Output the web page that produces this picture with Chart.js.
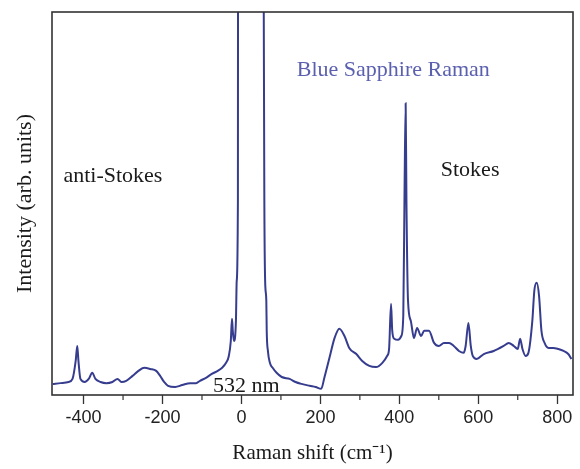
<!DOCTYPE html>
<html>
<head>
<meta charset="utf-8">
<script src="https://cdn.jsdelivr.net/npm/chart.js@4"></script>
<style>
  body { margin: 0; background: #fff; }
  #wrap { width: 580px; height: 469px; position: relative; }
</style>
</head>
<body>
<div id="wrap"><canvas id="myChart"></canvas></div>
<script>
// raman shift (cm-1) and intensity (arb. units, 0-100 = bottom-top of frame)
var shiftValues = [-478, -458, -438, -428, -420, -416, -413, -408, -397, -387, -378, -370, -357, -342, -327, -314, -304, -292,
  -276, -261, -246, -231, -216, -206, -196, -186, -168, -150, -130, -115, -105, -90, -75, -60, -49, -39, -32, -27, -24, -22,
  -19, -14, -12, -9, -8.5, -6, 52, 55, 58, 60, 63, 64, 67, 72, 79, 89, 102, 122, 137, 152, 173, 188, 202, 210, 223, 236,
  248, 261, 273, 291, 306, 324, 341, 357, 369, 374, 379, 382, 387, 397, 405, 410, 413, 416, 418, 422, 429, 437, 445, 455,
  463, 475, 488, 500, 513, 526, 538, 551, 563, 568, 575, 581, 586, 596, 614, 639, 664, 677, 690, 700, 706, 712, 720, 727,
  737, 742, 748, 754, 760, 768, 778, 790, 803, 816, 828, 836];
var intensityValues = [2.9, 3.1, 3.4, 4.2, 8.9, 12.8, 8.9, 4.2, 3.4, 4.2, 5.8, 4.2, 3.4, 3.1, 3.4, 4.2, 3.4, 3.7,
  5.0, 6.3, 7.1, 6.8, 6.3, 5.0, 3.4, 2.4, 2.1, 2.6, 3.1, 3.1, 3.7, 4.5, 5.5, 6.3, 7.1, 8.4, 10.2, 14.1, 19.9, 16.8,
  14.1, 19.4, 29.8, 50.8, 150, 300, 300, 150, 50.8, 29.8, 24.6, 16.8, 11.5, 8.4, 7.1, 5.8, 4.7, 4.2, 3.4, 2.9, 2.4, 2.1, 1.6, 4.5, 9.7, 14.9,
  17.3, 15.4, 12.3, 10.7, 8.9, 7.6, 7.3, 8.4, 10.2, 12.0, 23.8, 16.8, 14.7, 14.4, 15.4, 20.7, 50.8, 76.2, 50.8, 24.6, 19.4, 14.9, 17.5, 15.4,
  16.8, 16.8, 13.6, 12.8, 13.6, 13.6, 12.8, 11.5, 11.0, 12.8, 18.8, 12.8, 10.2, 9.4, 10.7, 11.5, 12.8, 13.6, 12.8, 12.0, 14.7, 12.0, 10.2, 11.0,
  19.4, 27.2, 29.3, 25.9, 16.8, 13.6, 12.3, 12.3, 12.0, 11.5, 10.7, 9.4];
var majorTicks = [-400, -200, 0, 200, 400, 600, 800];
var minorTicks = [-300, -100, 100, 300, 500, 700];
var notes = [
  {text: "Blue Sapphire Raman", x: 140, y: 84.9, color: "#5a5fae"},
  {text: "anti-Stokes", x: -451, y: 57, color: "#1a1a1a"},
  {text: "Stokes", x: 505, y: 58.7, color: "#1a1a1a"},
  {text: "532 nm", x: -72, y: 2.4, color: "#1a1a1a"}
];

var points = shiftValues.map(function(s, i) { return {x: s, y: intensityValues[i]}; });

// frame, minor ticks and text labels
var extras = {
  id: "extras",
  afterDatasetsDraw: function(chart) {
    var ctx = chart.ctx, a = chart.chartArea, xs = chart.scales.x, ys = chart.scales.y;
    ctx.save();
    ctx.strokeStyle = "#333";
    ctx.lineWidth = 1.6;
    ctx.strokeRect(a.left, a.top, a.right - a.left, a.bottom - a.top);
    ctx.lineWidth = 1.2;
    minorTicks.forEach(function(v) {
      var px = xs.getPixelForValue(v);
      ctx.beginPath();
      ctx.moveTo(px, a.bottom);
      ctx.lineTo(px, a.bottom + 5);
      ctx.stroke();
    });
    ctx.font = "22px 'Liberation Serif', serif";
    ctx.textBaseline = "middle";
    ctx.textAlign = "left";
    notes.forEach(function(n) {
      ctx.fillStyle = n.color;
      ctx.fillText(n.text, xs.getPixelForValue(n.x), ys.getPixelForValue(n.y));
    });
    ctx.restore();
  }
};

new Chart("myChart", {
  type: "line",
  data: {
    datasets: [{
      data: points,
      borderColor: "#363c8e",
      borderWidth: 2,
      pointRadius: 0,
      cubicInterpolationMode: "monotone",
      fill: false
    }]
  },
  options: {
    responsive: true,
    maintainAspectRatio: false,
    animation: false,
    layout: {padding: {top: 12, right: 7, left: 0, bottom: 0}},
    plugins: {legend: {display: false}, tooltip: {enabled: false}},
    scales: {
      x: {
        type: "linear",
        min: -480,
        max: 840,
        afterFit: function(s) { s.height = 74; },
        afterBuildTicks: function(s) { s.ticks = majorTicks.map(function(v) { return {value: v}; }); },
        border: {display: false},
        grid: {display: true, drawOnChartArea: false, drawTicks: true, tickLength: 9, tickColor: "#333", tickWidth: 1.3},
        ticks: {color: "#222", padding: 3, maxRotation: 0, font: {family: "'Liberation Sans', Arial, sans-serif", size: 18}},
        title: {display: true, text: "Raman shift (cm\u207B\u00B9)", color: "#1a1a1a", padding: {top: 0, bottom: 3},
          font: {family: "'Liberation Serif', serif", size: 21}}
      },
      y: {
        min: 0,
        max: 100,
        afterFit: function(s) { s.width = 52; },
        border: {display: false},
        grid: {display: false},
        ticks: {display: false},
        title: {display: true, text: "Intensity (arb. units)", color: "#1a1a1a", padding: {top: 12, bottom: 0},
          font: {family: "'Liberation Serif', serif", size: 22}}
      }
    }
  },
  plugins: [extras]
});
</script>
</body>
</html>
